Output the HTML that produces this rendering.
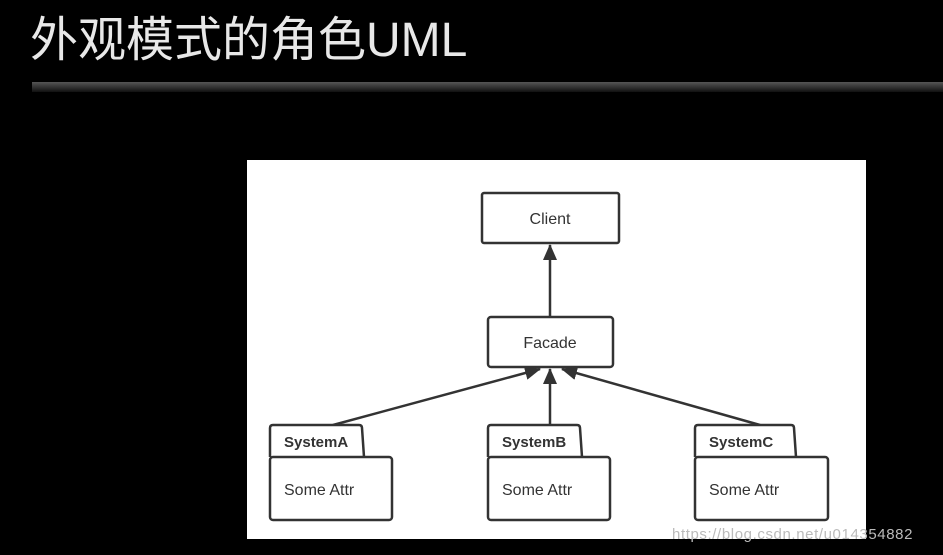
<html><head><style>body{margin:0;background:#000;width:943px;height:555px;overflow:hidden;position:relative;font-family:"Liberation Sans",sans-serif}
.t{position:absolute;left:30px;top:0px;font-family:"Liberation Sans","Noto Sans CJK SC",sans-serif;font-size:48px;color:#e8e8e8;letter-spacing:0px}
.bar{position:absolute;left:32px;top:82px;width:911px;height:10px;background:linear-gradient(#555,#111)}
.wm{position:absolute;left:672px;top:526px;color:#bbb;font-size:15px;letter-spacing:0.6px}
</style></head><body>
<div class="t">外观模式的角色UML</div><div class="bar"></div>
<svg style="position:absolute;left:0;top:0" width="943" height="555">
<rect x="247" y="160" width="619" height="379" fill="#fff"/>
<defs><marker id="a" markerWidth="16" markerHeight="14" refX="15" refY="7" orient="auto" markerUnits="userSpaceOnUse"><path d="M0,0L16,7L0,14z" fill="#333"/></marker></defs>
<g stroke="#333" stroke-width="2.5" fill="#fff">
<rect x="482" y="193" width="137" height="50" rx="2"/>
<rect x="488" y="317" width="125" height="50" rx="3"/>
<line x1="550" y1="317" x2="550" y2="245" marker-end="url(#a)"/>
<line x1="333" y1="425" x2="540" y2="369" marker-end="url(#a)"/>
<line x1="550" y1="425" x2="550" y2="369" marker-end="url(#a)"/>
<line x1="760" y1="425" x2="562" y2="369" marker-end="url(#a)"/>
<path d="M270,457V428q0,-3 3,-3h86q3,0 3,3l2,29"/><rect x="270" y="457" width="122" height="63" rx="3"/>
<path d="M488,457V428q0,-3 3,-3h86q3,0 3,3l2,29"/><rect x="488" y="457" width="122" height="63" rx="3"/>
<path d="M695,457V428q0,-3 3,-3h93q3,0 3,3l2,29"/><rect x="695" y="457" width="133" height="63" rx="3"/>
</g>
<g font-size="16" fill="#333" font-family="Liberation Sans,sans-serif">
<text x="550" y="224" text-anchor="middle">Client</text>
<text x="550" y="348" text-anchor="middle">Facade</text>
<text x="284" y="447" font-weight="bold" font-size="15">SystemA</text>
<text x="502" y="447" font-weight="bold" font-size="15">SystemB</text>
<text x="709" y="447" font-weight="bold" font-size="15">SystemC</text>
<text x="284" y="495">Some Attr</text>
<text x="502" y="495">Some Attr</text>
<text x="709" y="495">Some Attr</text>
</g></svg>
<div class="wm">https://blog.csdn.net/u014354882</div>
</body></html>
